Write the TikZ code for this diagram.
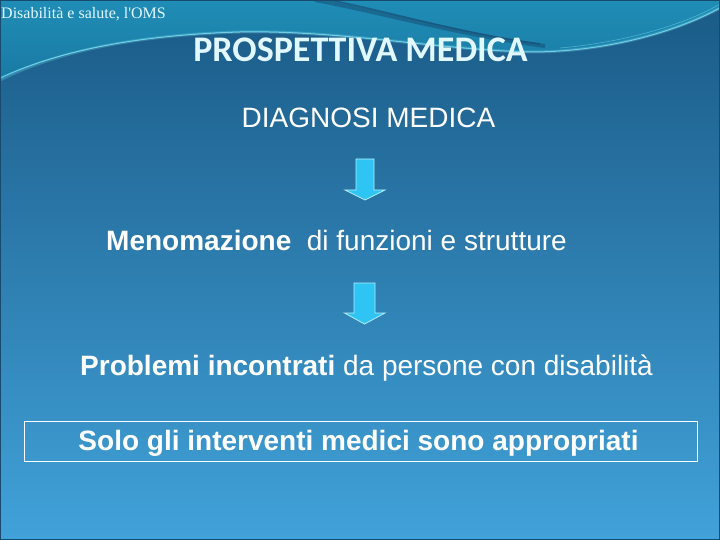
\documentclass[tikz,border=0pt]{standalone}
\usepackage{fontspec}
\setmainfont{Liberation Sans}
\newfontfamily\titlefont{Carlito}
\newfontfamily\hdrfont{Liberation Serif}
\usetikzlibrary{calc}
\definecolor{bgtop}{HTML}{1A5A86}
\definecolor{bgmid}{HTML}{2D80B8}
\definecolor{bgbot}{HTML}{41A2D9}
\definecolor{tealA}{HTML}{1F8DB6}
\definecolor{tealB}{HTML}{1A7AA4}
\definecolor{swoosh}{HTML}{164E76}
\definecolor{cyanline}{HTML}{7FE0F2}
\definecolor{titlec}{HTML}{E2F8FF}
\definecolor{arrowc}{HTML}{2EC4F4}
\definecolor{arrowedge}{HTML}{B5EEFF}
\definecolor{framec}{HTML}{174A6C}
\tikzset{
  bodytext/.style={inner sep=0pt, text=white, font=\fontsize{28}{32}\selectfont},
  blockarrow/.style={fill=arrowc, draw=arrowedge, line width=0.8pt, line join=miter},
}
\begin{document}
\begin{tikzpicture}[x=1pt,y=-1pt]
\useasboundingbox (0,0) rectangle (720,540);
% background
\shade[top color=bgtop, middle color=bgmid, bottom color=bgbot] (0,0) rectangle (720,540);
% top teal band
\shade[top color=tealA, bottom color=tealB]
  (0,0) -- (720,0) -- (720,8)
  .. controls (680,30) and (610,52) .. (530,52)
  .. controls (440,50) and (340,30) .. (240,32)
  .. controls (140,35) and (60,50) .. (0,80) -- cycle;
% dark swoosh
\draw[swoosh, line width=4pt, opacity=0.55] (315,0) .. controls (380,12) and (460,35) .. (545,46);
\draw[swoosh, line width=1.5pt, opacity=0.7] (330,0) .. controls (390,12) and (460,33) .. (540,44);
% light cyan lines
\draw[cyanline, line width=3pt, opacity=0.25]
  (0,80) .. controls (60,50) and (140,35) .. (240,32)
  .. controls (340,30) and (440,50) .. (530,52)
  .. controls (610,52) and (680,30) .. (720,8);
\draw[cyanline, line width=1pt, opacity=0.8]
  (0,78) .. controls (60,50) and (140,35) .. (240,32)
  .. controls (340,30) and (440,50) .. (530,52)
  .. controls (610,52) and (680,30) .. (720,8);
\draw[cyanline, line width=0.6pt, opacity=0.5]
  (560,48) .. controls (630,42) and (690,22) .. (720,4);
% frame
\draw[framec, line width=1.5pt] (0,0) rectangle (720,540);

% texts
\node[anchor=base west, inner sep=0pt, text=titlec, font=\hdrfont\fontsize{16}{18}\selectfont] (hdr) at (1,19) {Disabilità e salute, l'OMS};
\node[anchor=base, inner sep=0pt, text=titlec, font=\titlefont\bfseries\fontsize{36}{40}\selectfont] (title) at (360.5,62) {PROSPETTIVA MEDICA};
\node[bodytext, anchor=base] (diag) at (368.5,128) {DIAGNOSI MEDICA};
\node[bodytext, anchor=base west] (meno) at (106,250) {\textbf{Menomazione}\ \ di funzioni e strutture};
\node[bodytext, anchor=base west] (prob) at (80,375) {\textbf{Problemi incontrati} da persone con disabilità};
\node[draw=white, line width=0.8pt, inner sep=0pt, minimum width=673pt, minimum height=40pt, anchor=north west] (box) at (24,421) {};
\node[bodytext, anchor=base, font=\bfseries\fontsize{28}{32}\selectfont] (solo) at (358.5,450) {Solo gli interventi medici sono appropriati};

% block arrows
\coordinate (a1) at (365,159);
\coordinate (a2) at (364.5,283);
\draw[blockarrow] ($(a1)+(-9,0)$) -- ++(18,0) -- ++(0,31) -- ++(11,0) -- ($(a1)+(0,41)$) -- ++(-20,-10) -- ++(11,0) -- cycle;
\draw[blockarrow] ($(a2)+(-10.5,0)$) -- ++(21,0) -- ++(0,30) -- ++(10,0) -- ($(a2)+(0,41)$) -- ++(-20,-11) -- ++(9.5,0) -- cycle;
\end{tikzpicture}
\end{document}
